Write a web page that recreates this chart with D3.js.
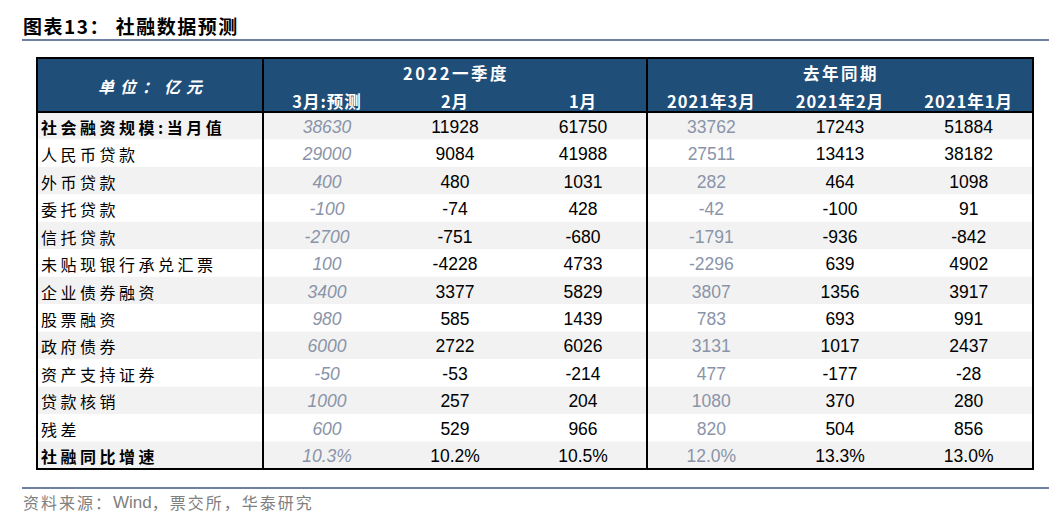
<!DOCTYPE html>
<html>
<head>
<meta charset="utf-8">
<script src="https://cdn.jsdelivr.net/npm/d3@7"></script>
<style>
  body { margin: 0; background: #fff; }
  svg { display: block; }
</style>
</head>
<body>
<svg id="chart"></svg>
<script>
const width = 1062;
const height = 517;

// row labels
const items = ["社会融资规模:当月值", "人民币贷款", "外币贷款", "委托贷款", "信托贷款",
    "未贴现银行承兑汇票", "企业债券融资", "股票融资", "政府债券", "资产支持证券",
    "贷款核销", "残差", "社融同比增速"];

const groups = ["2022一季度", "去年同期"];
const columns = ["3月:预测", "2月", "1月", "2021年3月", "2021年2月", "2021年1月"];

// 亿元 values, last entry = 同比增速 (%)
const mar22Forecast = [38630, 29000, 400, -100, -2700, 100, 3400, 980, 6000, -50, 1000, 600, 10.3];
const feb22 = [11928, 9084, 480, -74, -751, -4228, 3377, 585, 2722, -53, 257, 529, 10.2];
const jan22 = [61750, 41988, 1031, 428, -680, 4733, 5829, 1439, 6026, -214, 204, 966, 10.5];
const mar21 = [33762, 27511, 282, -42, -1791, -2296, 3807, 783, 3131, 477, 1080, 820, 12.0];
const feb21 = [17243, 13413, 464, -100, -936, 639, 1356, 693, 1017, -177, 370, 504, 13.3];
const jan21 = [51884, 38182, 1098, 91, -842, 4902, 3917, 991, 2437, -28, 280, 856, 13.0];

const series = [mar22Forecast, feb22, jan22, mar21, feb21, jan21];

const svg = d3.select("#chart")
    .attr("width", width)
    .attr("height", height);

const tableLeft = 37, tableRight = 1033;
const labelRight = 263, groupSplit = 647;
const headTop = 58, headBottom = 112, tableBottom = 469;

const cjk = "'Noto Sans CJK SC', sans-serif";
const latin = "'Liberation Sans', Arial, sans-serif";
const blue = "#1f4e79";
const grey = "#8a94a8";
const rule = "#7080a0";

const y = d3.scaleBand()
    .domain(items)
    .range([headBottom, tableBottom]);

const xLeft = d3.scaleBand().domain(columns.slice(0, 3)).range([labelRight, groupSplit]);
const xRight = d3.scaleBand().domain(columns.slice(3)).range([groupSplit, tableRight]);
const colX = c => (xLeft.domain().includes(c) ? xLeft(c) + xLeft.bandwidth() / 2 : xRight(c) + xRight.bandwidth() / 2);

// title
svg.append("text")
    .attr("x", 23).attr("y", 34)
    .style("font-family", cjk).style("font-weight", "bold").style("font-size", "19px")
    .style("letter-spacing", "1.5px")
    .style("fill", "#000")
    .text("图表13：  社融数据预测");

svg.append("line")
    .attr("x1", 22).attr("x2", 1049).attr("y1", 40).attr("y2", 40)
    .style("stroke", rule).style("stroke-width", 2);

// header block
svg.append("rect")
    .attr("x", tableLeft).attr("y", headTop)
    .attr("width", tableRight - tableLeft).attr("height", headBottom - headTop)
    .style("fill", blue);

svg.append("text")
    .attr("x", (tableLeft + labelRight) / 2 + 3).attr("y", 86)
    .attr("text-anchor", "middle").attr("dominant-baseline", "central")
    .style("font-family", cjk).style("font-weight", "bold").style("font-style", "italic")
    .style("font-size", "16px").style("letter-spacing", "6px")
    .style("fill", "#fff")
    .text("单位：亿元");

svg.selectAll(".group")
    .data(groups)
    .enter().append("text")
    .attr("class", "group")
    .attr("x", (d, i) => (i === 0 ? (labelRight + groupSplit) / 2 : (groupSplit + tableRight) / 2) + 1)
    .attr("y", 73)
    .attr("text-anchor", "middle").attr("dominant-baseline", "central")
    .style("font-family", cjk).style("font-weight", "bold").style("font-size", "16.5px")
    .style("letter-spacing", "2.5px")
    .style("fill", "#fff")
    .text(d => d);

svg.selectAll(".colhead")
    .data(columns)
    .enter().append("text")
    .attr("class", "colhead")
    .attr("x", d => colX(d))
    .attr("y", 101)
    .attr("text-anchor", "middle").attr("dominant-baseline", "central")
    .style("font-family", cjk).style("font-weight", "bold").style("font-size", "16.5px")
    .style("letter-spacing", "1px")
    .style("fill", "#fff")
    .text(d => d);

// body rows
svg.selectAll(".stripe")
    .data(items)
    .enter().append("rect")
    .attr("class", "stripe")
    .attr("x", tableLeft).attr("y", d => y(d))
    .attr("width", tableRight - tableLeft).attr("height", y.bandwidth())
    .style("fill", (d, i) => i % 2 === 0 ? "#f2f2f2" : "#fff");

const lastRow = items.length - 1;

svg.selectAll(".label")
    .data(items)
    .enter().append("text")
    .attr("class", "label")
    .attr("x", 41)
    .attr("y", d => y(d) + y.bandwidth() / 2 + 1)
    .attr("dominant-baseline", "central")
    .style("font-family", cjk)
    .style("font-weight", (d, i) => (i === 0 || i === lastRow) ? "bold" : "normal")
    .style("font-size", "16px").style("letter-spacing", "3.5px")
    .style("fill", "#000")
    .text(d => d);

series.forEach((vals, ci) => {
    const col = columns[ci];
    svg.selectAll(".cell-" + ci)
        .data(vals)
        .enter().append("text")
        .attr("class", "cell-" + ci)
        .attr("x", colX(col))
        .attr("y", (d, i) => y(items[i]) + y.bandwidth() / 2 + 1)
        .attr("text-anchor", "middle").attr("dominant-baseline", "central")
        .style("font-family", latin).style("font-size", "17.5px")
        .style("font-style", ci === 0 ? "italic" : "normal")
        .style("fill", (ci === 0 || ci === 3) ? grey : "#000")
        .text((d, i) => i === lastRow ? d.toFixed(1) + "%" : d);
});

// borders
const border = svg.append("g").style("stroke", "#000").style("fill", "none");
border.append("rect")
    .attr("x", tableLeft).attr("y", headTop)
    .attr("width", tableRight - tableLeft).attr("height", tableBottom - headTop)
    .style("stroke-width", 2);
border.append("line")
    .attr("x1", tableLeft).attr("x2", tableRight).attr("y1", headBottom).attr("y2", headBottom)
    .style("stroke-width", 2);
[labelRight, groupSplit].forEach(x => {
    border.append("line")
        .attr("x1", x).attr("x2", x).attr("y1", headTop).attr("y2", tableBottom)
        .style("stroke-width", 2);
});

// footer
svg.append("line")
    .attr("x1", 22).attr("x2", 1049).attr("y1", 488).attr("y2", 488)
    .style("stroke", rule).style("stroke-width", 2);

const source = svg.append("text")
    .attr("x", 23).attr("y", 502)
    .attr("dominant-baseline", "central")
    .style("font-family", cjk).style("font-size", "16px")
    .style("fill", "#808080");
source.append("tspan").style("letter-spacing", "2px").text("资料来源：");
source.append("tspan").style("font-family", latin).style("font-size", "17px").text("Wind");
source.append("tspan").style("letter-spacing", "2px").text("，票交所，华泰研究");
</script>
</body>
</html>
